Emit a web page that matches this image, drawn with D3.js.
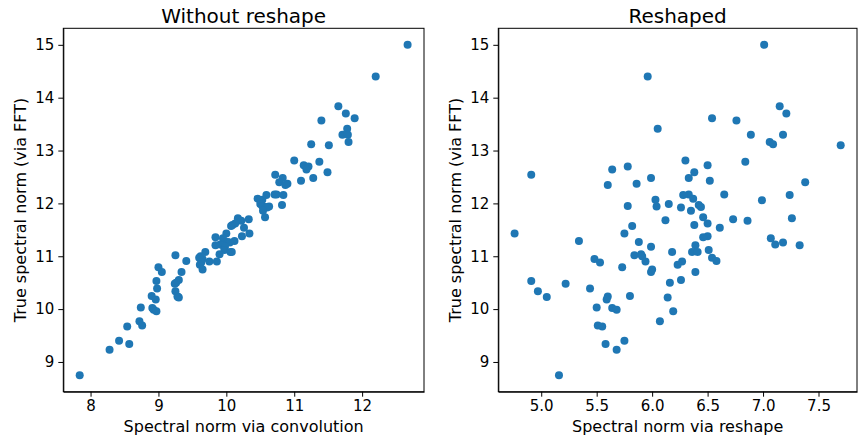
<!DOCTYPE html>
<html>
<head>
    <meta http-equiv="Content-Type" content="text/html;charset=utf8" />
    <title>Spectral norm scatter</title>
    <script src="https://d3js.org/d3.v7.min.js"></script>
    <style>
        body { margin: 0; background: #fff; font-family: "DejaVu Sans", sans-serif; }
        svg text { font-family: "DejaVu Sans", sans-serif; fill: #000; }
        .tick line, .domain { stroke: #000; }
    </style>
</head>
<body>

<div id="chart"></div>

<script>
    // true spectral norm (via FFT), shared by both panels
    var trueNorm = [15.00, 14.40, 13.84, 13.70, 13.61, 13.57, 13.41, 13.30, 13.30, 13.16,
        13.12, 13.10, 12.81, 12.79, 12.72, 12.70, 12.64, 12.59, 12.54, 12.48,
        12.48, 12.43, 12.40, 12.37, 12.35, 12.17, 12.17, 12.16, 12.16, 12.09,
        12.07, 12.06, 11.99, 11.97, 11.95, 11.94, 11.93, 11.92, 11.86, 11.74,
        11.72, 11.70, 11.68, 11.67, 11.62, 11.59, 11.57, 11.54, 11.43, 11.43,
        11.38, 11.36, 11.34, 11.29, 11.27, 11.26, 11.22, 11.21, 11.21, 11.18,
        11.12, 11.08, 11.08, 11.08, 11.04, 11.02, 11.00, 10.97, 10.95, 10.91,
        10.90, 10.90, 10.88, 10.84, 10.79, 10.75, 10.70, 10.70, 10.55, 10.53,
        10.50, 10.48, 10.39, 10.34, 10.25, 10.24, 10.23, 10.22, 10.18, 10.03,
        10.02, 9.99, 9.96, 9.77, 9.69, 9.67, 9.40, 9.34, 9.23, 8.75];

    // spectral norm via convolution (left panel x)
    var convNorm = [12.67, 12.20, 11.65, 11.76, 11.89, 11.40, 11.78, 11.71, 11.79, 11.80,
        11.25, 11.51, 11.00, 11.37, 11.14, 11.21, 11.18, 11.49, 10.72, 10.83,
        11.28, 11.10, 10.78, 10.90, 10.87, 10.71, 10.74, 10.59, 10.84, 10.46,
        10.53, 10.50, 10.50, 10.82, 10.53, 10.63, 10.58, 10.60, 10.54, 10.57,
        10.17, 10.33, 10.18, 10.22, 10.13, 10.09, 10.07, 10.26, 10.34, 10.00,
        10.23, 9.84, 9.95, 10.12, 10.02, 10.05, 9.91, 9.84, 9.95, 9.98,
        9.97, 10.06, 9.69, 10.08, 9.90, 9.25, 9.62, 9.60, 9.65, 9.41,
        9.75, 9.86, 9.63, 9.61, 9.00, 9.65, 9.05, 9.34, 9.30, 8.97,
        9.26, 9.24, 8.98, 9.25, 8.90, 9.28, 9.29, 9.30, 8.96, 8.74,
        8.91, 8.93, 8.97, 8.72, 8.76, 8.54, 8.42, 8.57, 8.28, 7.84];

    // spectral norm via reshape (right panel x)
    var reshapeNorm = [7.01, 5.96, 7.15, 7.21, 6.54, 6.76, 6.05, 6.89, 7.18, 7.06,
        7.09, 7.70, 6.30, 6.84, 6.50, 5.78, 5.64, 6.38, 4.91, 5.99,
        6.33, 6.52, 7.38, 5.86, 5.60, 6.65, 6.33, 6.28, 7.24, 6.37,
        6.03, 6.99, 6.15, 6.42, 5.78, 6.04, 6.44, 6.26, 6.35, 6.46,
        7.26, 6.73, 6.12, 6.86, 6.50, 6.38, 5.82, 6.61, 4.76, 5.75,
        6.50, 6.46, 7.07, 5.34, 5.88, 7.18, 7.11, 7.33, 6.39, 5.99,
        6.51, 6.18, 6.36, 6.41, 5.90, 5.84, 5.91, 6.54, 5.48, 6.58,
        6.27, 5.94, 5.53, 6.23, 5.73, 6.00, 5.99, 6.39, 6.26, 4.91,
        6.16, 5.22, 5.44, 4.97, 5.80, 5.60, 5.05, 6.14, 5.59, 5.50,
        5.64, 5.68, 6.19, 6.07, 5.51, 5.55, 5.75, 5.58, 5.68, 5.16];

    var leftTicks = [8, 9, 10, 11, 12];
    var rightTicks = [5.0, 5.5, 6.0, 6.5, 7.0, 7.5];
    var yTicks = [9, 10, 11, 12, 13, 14, 15];

    var W = 860, H = 435;
    var svg = d3.select("#chart").append("svg").attr("width", W).attr("height", H);

    // matplotlib-style 5% margins around data
    function padded(vals) {
        var e = d3.extent(vals), m = (e[1] - e[0]) * 0.05;
        return [e[0] - m, e[1] + m];
    }

    var plotTop = 28.3, plotBottom = 391.7;
    var y = d3.scaleLinear().domain(padded(trueNorm)).range([plotBottom, plotTop]);

    function panel(x0, x1, xs, ticks, fmt, title, xlabel) {
        var x = d3.scaleLinear().domain(padded(xs)).range([x0, x1]);
        var g = svg.append("g");

        var ax = g.append("g").attr("transform", "translate(0," + plotBottom + ")")
            .call(d3.axisBottom(x).tickValues(ticks).tickFormat(fmt).tickSize(5).tickSizeOuter(0).tickPadding(4));
        var ay = g.append("g").attr("transform", "translate(" + x0 + ",0)")
            .call(d3.axisLeft(y).tickValues(yTicks).tickFormat(d3.format("d")).tickSize(5).tickSizeOuter(0).tickPadding(4));
        ax.selectAll("text").style("font-size", "15px");
        ay.selectAll("text").style("font-size", "15px");

        g.append("rect").attr("x", x0).attr("y", plotTop).attr("width", x1 - x0).attr("height", plotBottom - plotTop)
            .attr("fill", "none").attr("stroke", "#000").attr("stroke-width", 1);

        g.selectAll("circle").data(xs).enter().append("circle")
            .attr("cx", function(d) { return x(d); })
            .attr("cy", function(d, i) { return y(trueNorm[i]); })
            .attr("r", 4)
            .attr("fill", "#1f77b4");

        g.append("text").attr("x", (x0 + x1) / 2).attr("y", 23)
            .attr("text-anchor", "middle").style("font-size", "20px").text(title);
        g.append("text").attr("x", (x0 + x1) / 2).attr("y", 432)
            .attr("text-anchor", "middle").style("font-size", "16px").text(xlabel);
        g.append("text").attr("transform", "translate(" + (x0 - 37) + "," + ((plotTop + plotBottom) / 2) + ") rotate(-90)")
            .attr("text-anchor", "middle").style("font-size", "16px").text("True spectral norm (via FFT)");
    }

    panel(63.3, 424, convNorm, leftTicks, d3.format("d"), "Without reshape", "Spectral norm via convolution");
    panel(498.3, 857, reshapeNorm, rightTicks, d3.format(".1f"), "Reshaped", "Spectral norm via reshape");
</script>

</body>
</html>
